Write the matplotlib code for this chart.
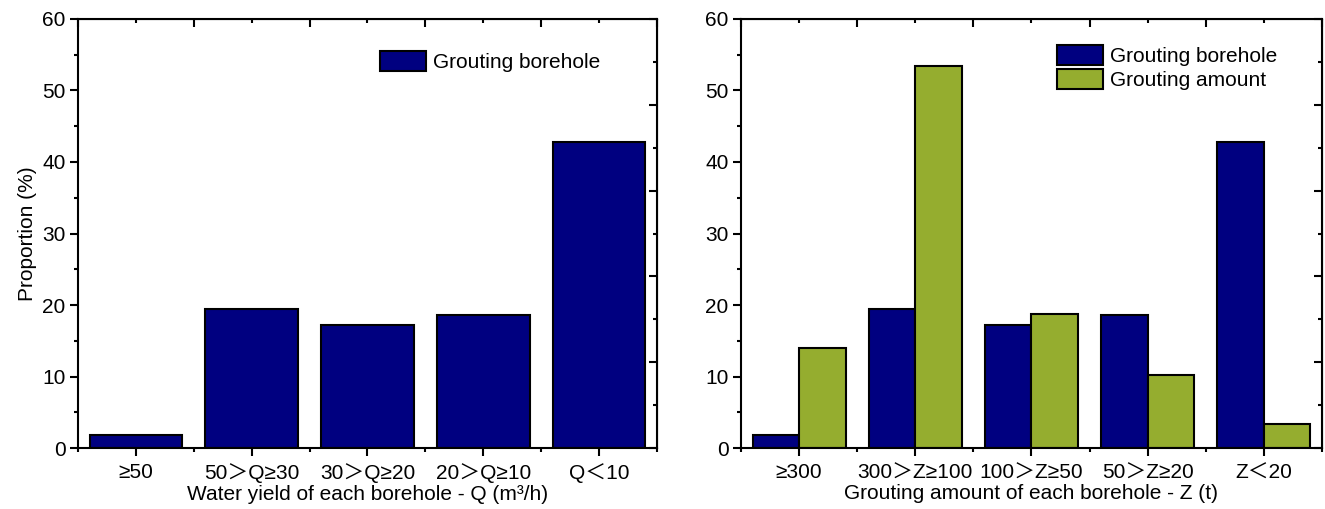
import numpy as np
import matplotlib
matplotlib.use('Agg')
import matplotlib.pyplot as plt
from matplotlib.ticker import MultipleLocator, FixedLocator

plt.rcParams['font.family'] = ['Liberation Sans', 'Noto Sans CJK SC', 'DejaVu Sans']

# dados
q_labels = ['≥50', '50＞Q≥30', '30＞Q≥20', '20＞Q≥10', 'Q＜10']
z_labels = ['≥300', '300＞Z≥100', '100＞Z≥50', '50＞Z≥20', 'Z＜20']
borehole = [1.8, 19.5, 17.2, 18.6, 42.8]
amount = [14.0, 53.4, 18.7, 10.2, 3.4]

navy = '#000080'
green = '#95AD2F'
fs = 15

fig = plt.figure(figsize=(13.25, 5.09), dpi=100)
ax1 = fig.add_axes([0.0589, 0.1198, 0.4369, 0.8429])
ax2 = fig.add_axes([0.5592, 0.1198, 0.4385, 0.8429])

x = np.arange(len(q_labels))

ax1.bar(x, borehole, width=0.8, color=navy, edgecolor='black', linewidth=1.5,
        label='Grouting borehole')
ax2.bar(x - 0.2, borehole, width=0.4, color=navy, edgecolor='black', linewidth=1.5,
        label='Grouting borehole')
ax2.bar(x + 0.2, amount, width=0.4, color=green, edgecolor='black', linewidth=1.5,
        label='Grouting amount')


def estilo(ax, labels, xlabel):
    ax.set_xlim(-0.5, 4.5)
    ax.set_ylim(0, 60)
    ax.set_xticks(x)
    ax.set_xticklabels(labels, fontsize=fs)
    ax.xaxis.set_minor_locator(FixedLocator(np.arange(-0.5, 4.6, 1)))
    ax.yaxis.set_major_locator(MultipleLocator(10))
    ax.yaxis.set_minor_locator(MultipleLocator(5))
    ax.tick_params(axis='both', which='major', direction='out', length=6, width=1.5,
                   labelsize=fs, top=False, right=False)
    ax.tick_params(axis='both', which='minor', direction='out', length=3, width=1.5)
    ax.tick_params(axis='x', which='major', pad=5)
    ax.tick_params(axis='y', which='major', pad=3)
    for s in ax.spines.values():
        s.set_linewidth(1.5)
    ax.set_xlabel(xlabel, fontsize=fs, labelpad=1)
    # ticks internos no topo e na direita
    axt = ax.secondary_xaxis('top')
    axt.set_xticks(np.arange(-0.5, 4.6, 1))
    axt.xaxis.set_minor_locator(FixedLocator(x))
    axt.tick_params(which='major', direction='in', length=6, width=1.5, labeltop=False)
    axt.tick_params(which='minor', direction='in', length=3, width=1.5)
    axr = ax.secondary_yaxis('right')
    axr.set_yticks([0, 12, 24, 36, 48, 60])
    axr.yaxis.set_minor_locator(MultipleLocator(6))
    axr.tick_params(which='major', direction='in', length=6, width=1.5, labelright=False)
    axr.tick_params(which='minor', direction='in', length=3, width=1.5)


estilo(ax1, q_labels, 'Water yield of each borehole - Q (m³/h)')
estilo(ax2, z_labels, 'Grouting amount of each borehole - Z (t)')
ax1.set_ylabel('Proportion (%)', fontsize=fs, labelpad=4)

ax1.legend(loc='upper left', bbox_to_anchor=(0.522, 0.925), frameon=False, fontsize=fs,
           borderpad=0, borderaxespad=0,
           handlelength=2.2, handleheight=1.1, handletextpad=0.35)
ax2.legend(loc='upper left', bbox_to_anchor=(0.544, 0.94), frameon=False, fontsize=fs,
           borderpad=0, borderaxespad=0,
           handlelength=2.2, handleheight=1.1, handletextpad=0.35, labelspacing=0.15)

fig.savefig('out.png', dpi=100)
